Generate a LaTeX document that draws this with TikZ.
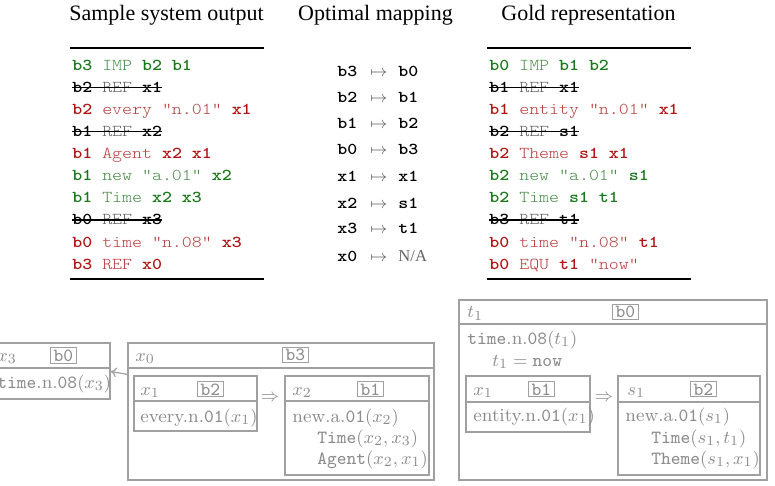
\documentclass[tikz,border=0pt]{standalone}
\usepackage{fontspec}
\newfontfamily\timesf{Liberation Serif}
\newfontfamily\courf{lmmonolt10-regular.otf}[BoldFont=lmmonolt10-bold.otf,FakeStretch=1.143]
\usetikzlibrary{fit,arrows.meta}
\definecolor{gv}{RGB}{25,120,25}
\definecolor{gp}{RGB}{70,140,70}
\definecolor{rv}{RGB}{178,20,20}
\definecolor{rp}{RGB}{185,60,60}
\definecolor{kp}{RGB}{100,100,100}
\definecolor{drsc}{RGB}{160,160,160}
\definecolor{drst}{RGB}{140,140,140}
\newcommand\GV[1]{{\color{gv}\bfseries #1}}
\newcommand\GP[1]{{\color{gp}#1}}
\newcommand\RV[1]{{\color{rv}\bfseries #1}}
\newcommand\RP[1]{{\color{rp}#1}}
\newcommand\KV[1]{{\color{black}\bfseries #1}}
\newcommand\KP[1]{{\color{kp}#1}}
\begin{document}
\begin{tikzpicture}[x=0.5pt,y=-0.5pt,
  title/.style={anchor=base,inner sep=0,font=\timesf\fontsize{11}{13}\selectfont},
  code/.style={anchor=base west,inner sep=0,font=\courf\fontsize{8.3}{10}\selectfont},
  strike/.style={line width=0.7pt,black},
  rule/.style={line width=0.9pt,black},
  mapa/.style={anchor=base west,inner sep=0,text=kp,font=\fontsize{8.3}{10}\selectfont},
  drsbox/.style={draw=drsc,line width=0.6pt,inner sep=0,fill=none},
  drsline/.style={draw=drsc,line width=0.6pt},
  drstxt/.style={anchor=base west,inner sep=0,text=drst,font=\fontsize{9.3}{11}\selectfont},
  lbl/.style={draw=drsc,line width=0.5pt,anchor=base west,inner xsep=1.6pt,inner ysep=0.9pt,text=drst,font=\fontsize{9.3}{11}\selectfont\ttfamily},
  darr/.style={draw=drsc,line width=0.6pt,-{To[length=3pt,width=5pt]}}
]
\clip (0,0) rectangle (775,486);
% titles
\node[title] (tl) at (166.5,21) {Sample system output};
\node[title] (tm) at (375.5,21) {Optimal mapping};
\node[title] (tr) at (588.5,21) {Gold representation};
% left table
\coordinate (lr1a) at (70,48); \coordinate (lr1b) at (264,48);
\coordinate (lr2a) at (70,279); \coordinate (lr2b) at (264,279);
\draw[rule] (lr1a) -- (lr1b);
\draw[rule] (lr2a) -- (lr2b);
\node[code] (l1) at (72,71) {\GV{b3} \GP{IMP} \GV{b2} \GV{b1}};
\node[code] (l2) at (72,93) {\KV{b2} \KP{REF} \KV{x1}};
\node[code] (l3) at (72,115) {\RV{b2} \RP{every "n.01"} \RV{x1}};
\node[code] (l4) at (72,137) {\KV{b1} \KP{REF} \KV{x2}};
\node[code] (l5) at (72,159) {\RV{b1} \RP{Agent} \RV{x2} \RV{x1}};
\node[code] (l6) at (72,181) {\GV{b1} \GP{new "a.01"} \GV{x2}};
\node[code] (l7) at (72,203) {\GV{b1} \GP{Time} \GV{x2} \GV{x3}};
\node[code] (l8) at (72,225) {\KV{b0} \KP{REF} \KV{x3}};
\node[code] (l9) at (72,247) {\RV{b0} \RP{time "n.08"} \RV{x3}};
\node[code] (l10) at (72,269) {\RV{b3} \RP{REF} \RV{x0}};
\foreach \n in {l2,l4,l8}{\draw[strike] ([yshift=2.6pt]\n.base west) -- ([yshift=2.6pt]\n.base east);}
% right table
\coordinate (rr1a) at (487,48); \coordinate (rr1b) at (691,48);
\coordinate (rr2a) at (487,279); \coordinate (rr2b) at (691,279);
\draw[rule] (rr1a) -- (rr1b);
\draw[rule] (rr2a) -- (rr2b);
\node[code] (r1) at (489,71) {\GV{b0} \GP{IMP} \GV{b1} \GV{b2}};
\node[code] (r2) at (489,93) {\KV{b1} \KP{REF} \KV{x1}};
\node[code] (r3) at (489,115) {\RV{b1} \RP{entity "n.01"} \RV{x1}};
\node[code] (r4) at (489,137) {\KV{b2} \KP{REF} \KV{s1}};
\node[code] (r5) at (489,159) {\RV{b2} \RP{Theme} \RV{s1} \RV{x1}};
\node[code] (r6) at (489,181) {\GV{b2} \GP{new "a.01"} \GV{s1}};
\node[code] (r7) at (489,203) {\GV{b2} \GP{Time} \GV{s1} \GV{t1}};
\node[code] (r8) at (489,225) {\KV{b3} \KP{REF} \KV{t1}};
\node[code] (r9) at (489,247) {\RV{b0} \RP{time "n.08"} \RV{t1}};
\node[code] (r10) at (489,269) {\RV{b0} \RP{EQU} \RV{t1} \RP{"now"}};
\foreach \n in {r2,r4,r8}{\draw[strike] ([yshift=2.6pt]\n.base west) -- ([yshift=2.6pt]\n.base east);}
% mapping
\foreach \a/\b/\y [count=\i] in {b3/b0/77,b2/b1/103,b1/b2/129,b0/b3/155,x1/x1/182,x2/s1/208,x3/t1/234}{
  \node[code] (ma\i) at (337,\y) {\bfseries \a};
  \node[mapa] (mm\i) at (370,\y) {$\mapsto$};
  \node[code] (mb\i) at (398,\y) {\bfseries \b};
}
\node[code] (ma8) at (337,261) {\bfseries x0};
\node[mapa] (mm8) at (370,261) {$\mapsto$};
\node[mapa] (mb8) at (398,261) {\timesf N/A};
% ---- left DRS
\node[drsbox,fit={(-10,343) (110,399)}] (bx3) {};
\draw[drsline] (bx3.west |- 0,368) -- (bx3.east |- 0,368);
\node[drstxt] (x3lab) at (-3,361) {$x_3$};
\node[lbl] (x3b) at (50,361) {b0};
\node[drstxt] (x3c) at (-3,388) {\texttt{time}.n.\texttt{08}$(x_3)$};

\node[drsbox,fit={(128,343) (434,480)}] (bx0) {};
\draw[drsline] (bx0.west |- 0,368) -- (bx0.east |- 0,368);
\node[drstxt] (x0lab) at (135,361) {$x_0$};
\node[lbl] (x0b) at (282,360.6) {b3};

\node[drsbox,fit={(134,376) (257,431)}] (bx1) {};
\draw[drsline] (bx1.west |- 0,401) -- (bx1.east |- 0,401);
\node[drstxt] (x1lab) at (140,395) {$x_1$};
\node[lbl] (x1b) at (197,395) {b2};
\node[drstxt] (x1c) at (140,422) {every.n.\texttt{01}$(x_1)$};

\node[drstxt,anchor=center] (imp1) at (270,398) {$\Rightarrow$};

\node[drsbox,fit={(285,376) (429,475)}] (bx2) {};
\draw[drsline] (bx2.west |- 0,401) -- (bx2.east |- 0,401);
\node[drstxt] (x2lab) at (292,395) {$x_2$};
\node[lbl] (x2b) at (357,395) {b1};
\node[drstxt] (x2c1) at (292,422) {new.a.\texttt{01}$(x_2)$};
\node[drstxt] (x2c2) at (317,443) {\texttt{Time}$(x_2,x_3)$};
\node[drstxt] (x2c3) at (317,464) {\texttt{Agent}$(x_2,x_1)$};

\draw[darr] ([yshift=-16pt]bx0.north west) -- ([yshift=-14.5pt]bx3.north east);
% ---- right DRS
\node[drsbox,fit={(459,300) (767,480)}] (bt1) {};
\draw[drsline] (bt1.west |- 0,324) -- (bt1.east |- 0,324);
\node[drstxt] (t1lab) at (467,317.6) {$t_1$};
\node[lbl] (t1b) at (612,317.6) {b0};
\node[drstxt] (t1c1) at (467,344) {\texttt{time}.n.\texttt{08}$(t_1)$};
\node[drstxt] (t1c2) at (492,366) {$t_1=\texttt{now}$};

\node[drsbox,fit={(466,376) (590,432)}] (by1) {};
\draw[drsline] (by1.west |- 0,402) -- (by1.east |- 0,402);
\node[drstxt] (y1lab) at (473,395) {$x_1$};
\node[lbl] (y1b) at (528,395) {b1};
\node[drstxt] (y1c) at (473,421) {entity.n.\texttt{01}$(x_1)$};

\node[drstxt,anchor=center] (imp2) at (604,398) {$\Rightarrow$};

\node[drsbox,fit={(618,376) (760,475)}] (bs1) {};
\draw[drsline] (bs1.west |- 0,402) -- (bs1.east |- 0,402);
\node[drstxt] (s1lab) at (627,395) {$s_1$};
\node[lbl] (s1b) at (690,395) {b2};
\node[drstxt] (s1c1) at (625,421) {new.a.\texttt{01}$(s_1)$};
\node[drstxt] (s1c2) at (651,443) {\texttt{Time}$(s_1,t_1)$};
\node[drstxt] (s1c3) at (651,464) {\texttt{Theme}$(s_1,x_1)$};
\end{tikzpicture}
\end{document}
